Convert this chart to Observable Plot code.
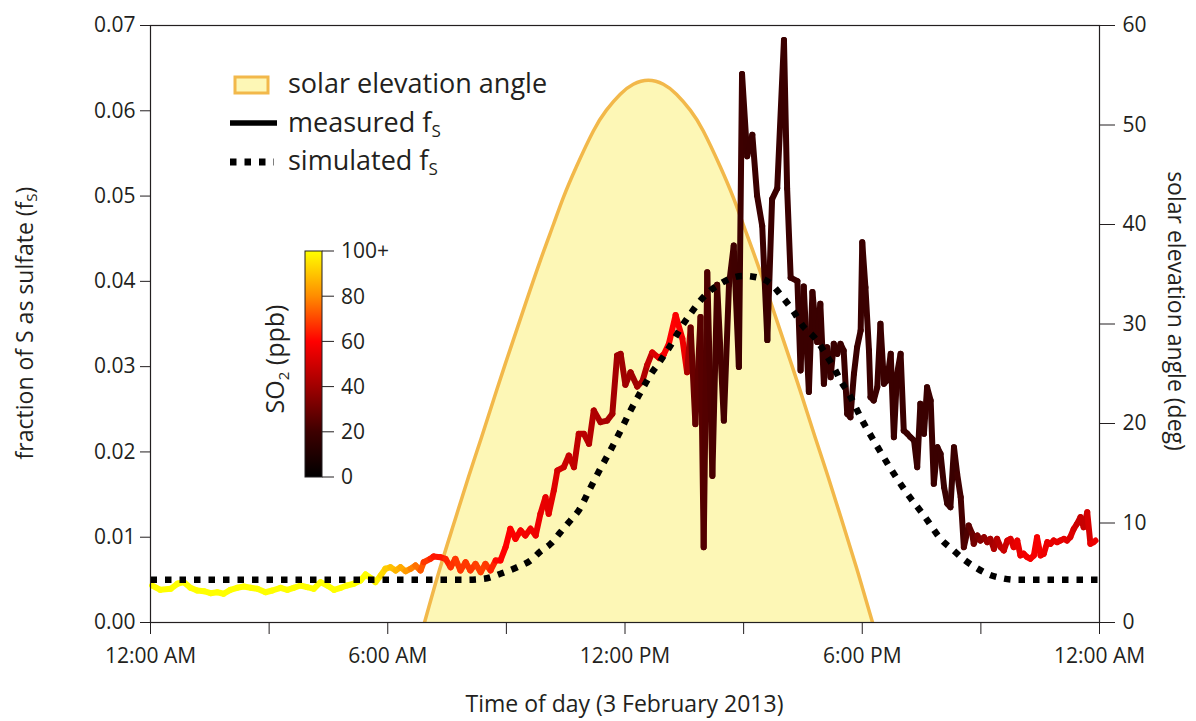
<!DOCTYPE html>
<html><head><meta charset="utf-8">
<script src="https://cdn.jsdelivr.net/npm/d3@7"></script>
<script src="https://cdn.jsdelivr.net/npm/@observablehq/plot@0.6"></script>
<style>
html,body{margin:0;padding:0;background:#fff;}
#chart{position:relative;width:1196px;height:721px;overflow:hidden;}
</style></head>
<body><div id="chart"></div>
<script>
const FONT = "'Open Sans', sans-serif";
const INK = "#231f20";

// ---- axis / tick definitions ----
const xTicks = [0, 3, 6, 9, 12, 15, 18, 21, 24];
const xTickLabels = ["12:00 AM", "", "6:00 AM", "", "12:00 PM", "", "6:00 PM", "", "12:00 AM"];
const yTicks = [0, 0.01, 0.02, 0.03, 0.04, 0.05, 0.06, 0.07];
const elevTicks = [0, 10, 20, 30, 40, 50, 60];
const so2Ticks = [0, 20, 40, 60, 80, 100];
const so2TickLabels = ["0", "20", "40", "60", "80", "100+"];
const so2ColorDomain = [0, 20, 40, 60, 80, 100];
const so2ColorRange = ["#000000", "#3d0000", "#a00000", "#ff0000", "#ff8c00", "#ffff00"];

// ---- solar elevation angle (deg) ----
const solarHour = [6.93, 7.28, 7.66, 8.04, 8.37, 8.75, 9.10, 9.48, 9.86, 10.19, 10.44, 10.77, 11.20, 11.53, 11.88, 12.21, 12.59,
  12.97, 13.30, 13.65, 13.98, 14.41, 14.74, 14.99, 15.32, 15.70, 16.08, 16.43, 16.81, 17.14, 17.52, 17.90, 18.26];
const solarElev = [0, 4.9, 9.8, 14.6, 18.6, 23.3, 27.5, 32.0, 36.4, 40.0, 42.7, 45.8, 49.4, 51.5, 53.1, 54.1, 54.5,
  54.1, 53.1, 51.5, 49.4, 45.8, 42.7, 40.0, 36.4, 32.0, 27.5, 23.3, 18.6, 14.6, 9.8, 4.9, 0];

// ---- simulated fS ----
const simHour = [0, 8.0, 8.43, 8.85, 9.27, 9.61, 9.86, 10.12, 10.37, 10.62, 10.83, 11.13, 11.38, 11.63, 11.89, 12.14, 12.39, 12.65, 12.90, 13.15,
  13.40, 13.66, 13.91, 14.16, 14.42, 14.67, 15.00, 15.35, 15.68, 15.93, 16.26, 16.51, 16.77, 16.94, 17.07, 17.28, 17.45, 17.66, 18.00, 18.34,
  18.72, 19.14, 19.56, 20.02, 20.28, 20.57, 20.86, 21.16, 21.54, 21.92, 24];
const simFs = [0.005, 0.005, 0.00512, 0.00571, 0.00648, 0.00727, 0.00832, 0.00923, 0.01059, 0.01196, 0.01313, 0.01583, 0.01806, 0.02017, 0.02251, 0.02486, 0.02697, 0.02908, 0.03072, 0.03248,
  0.03447, 0.03623, 0.03776, 0.03893, 0.03975, 0.04034, 0.04063, 0.04045, 0.03975, 0.03846, 0.03647, 0.03471, 0.03353, 0.03248, 0.03151, 0.02993, 0.02838, 0.02682, 0.02369, 0.02095,
  0.01802, 0.01509, 0.01255, 0.00961, 0.00856, 0.00739, 0.00648, 0.00571, 0.00519, 0.005, 0.005];

// ---- measured fS with SO2 (ppb) ----
const measHour = [0.04, 0.25, 0.51, 0.68, 0.84, 1.01, 1.18, 1.35, 1.52, 1.69, 1.85, 2.02, 2.19, 2.36, 2.53, 2.70, 2.91, 3.08, 3.29, 3.46, 3.62, 3.79, 3.96, 4.13, 4.30, 4.47, 4.64, 4.81, 4.97, 5.14, 5.31, 5.44, 5.56, 5.69, 5.82, 5.94, 6.07, 6.20, 6.32, 6.45, 6.58, 6.70, 6.83, 6.91, 7.08, 7.16,
  7.33, 7.46, 7.59, 7.71, 7.84, 7.97, 8.09, 8.22, 8.35, 8.47, 8.60, 8.73, 8.85, 8.98, 9.10, 9.23, 9.36, 9.48, 9.61, 9.74, 9.86, 9.99, 10.07, 10.20, 10.29, 10.45, 10.58, 10.71, 10.83, 10.96, 11.09, 11.21, 11.38, 11.55, 11.68, 11.80, 11.89,
  12.01, 12.14, 12.31, 12.44, 12.56, 12.69, 12.86, 12.98, 13.11, 13.28, 13.45, 13.57,
  13.66, 13.78, 13.91, 13.99, 14.08, 14.21, 14.33, 14.50, 14.63, 14.75, 14.88, 14.96, 15.09, 15.22, 15.34, 15.47, 15.60, 15.72, 15.85, 16.02, 16.10, 16.19, 16.36, 16.44, 16.52, 16.65, 16.74, 16.86,
  16.94, 17.03, 17.11, 17.20, 17.28, 17.37, 17.45, 17.53, 17.62, 17.70, 17.79, 17.87, 17.96, 18.00, 18.08, 18.17, 18.21, 18.29, 18.38, 18.46, 18.55, 18.63, 18.72, 18.80, 18.88, 18.97, 19.05, 19.14, 19.22, 19.31, 19.39, 19.47, 19.56, 19.64, 19.73, 19.81, 19.90, 19.98, 20.07, 20.15, 20.23, 20.32, 20.40, 20.49, 20.57,
  20.69, 20.78, 20.82, 20.91, 20.99, 21.08, 21.16, 21.24, 21.33, 21.41, 21.50, 21.58, 21.67, 21.75, 21.83, 21.92, 22.00, 22.08, 22.17, 22.25, 22.34, 22.42, 22.51, 22.59, 22.68, 22.76, 22.84, 22.93, 23.01, 23.10, 23.18, 23.26, 23.35, 23.43, 23.52, 23.60, 23.69, 23.77, 23.85, 23.90];
const measFs = [0.00434, 0.00383, 0.00395, 0.00454, 0.00473, 0.00407, 0.00375, 0.00367, 0.00344, 0.00355, 0.00337, 0.00383, 0.00407, 0.00422, 0.00407, 0.00395, 0.00355, 0.00375, 0.00407, 0.00383, 0.00407, 0.00434, 0.00414, 0.00395, 0.00473, 0.00434, 0.00383, 0.00407, 0.00434, 0.00454, 0.00492, 0.00563, 0.00524, 0.00473, 0.00551, 0.0063, 0.00648, 0.0061, 0.00648, 0.00601, 0.0063, 0.00668, 0.0061, 0.00707, 0.00747, 0.00774,
  0.00766, 0.00747, 0.00648, 0.00747, 0.0061, 0.00707, 0.0061, 0.00688, 0.0059, 0.00688, 0.0061, 0.00727, 0.00727, 0.00883, 0.01099, 0.00981, 0.01079, 0.0102, 0.01099, 0.0102, 0.01274, 0.01469, 0.01274, 0.01548, 0.01782, 0.01821, 0.01958, 0.01821, 0.02212, 0.02212, 0.02095, 0.02486, 0.02349, 0.02368, 0.02447, 0.03131, 0.0315,
  0.02787, 0.02934, 0.02767, 0.02829, 0.03018, 0.03166, 0.03101, 0.03142, 0.03269, 0.03604, 0.03331, 0.02934,
  0.03458, 0.02326, 0.03583, 0.00882, 0.04106, 0.01719, 0.0396, 0.02368, 0.0396, 0.0442, 0.02997, 0.0643, 0.05467, 0.05718, 0.05007, 0.0465, 0.03311, 0.04964, 0.0509, 0.06829, 0.0509, 0.04044, 0.04002, 0.02955, 0.0394, 0.02704, 0.03876, 0.0329,
  0.03737, 0.02799, 0.03228, 0.02876, 0.03268, 0.0315, 0.03268, 0.03189, 0.02447, 0.02407, 0.02916, 0.03228, 0.03424, 0.04459, 0.03931, 0.03189, 0.02642, 0.02603, 0.02759, 0.03502, 0.02799, 0.02838, 0.0315, 0.02173, 0.02916, 0.0315, 0.02251, 0.02213, 0.02173, 0.02134, 0.01821, 0.02564, 0.02213, 0.02759, 0.02603, 0.01626, 0.02055, 0.01978, 0.01586, 0.01392, 0.01352, 0.02055, 0.01743, 0.01469, 0.00883,
  0.01137, 0.0104, 0.00923, 0.0102, 0.00961, 0.01, 0.00942, 0.00981, 0.00864, 0.00981, 0.00883, 0.00844, 0.00961, 0.00981, 0.00883, 0.00961, 0.00786, 0.00806, 0.00766, 0.00747, 0.00786, 0.01, 0.00786, 0.00806, 0.00942, 0.00923, 0.00961, 0.00942, 0.00961, 0.00981, 0.00961, 0.01, 0.01099, 0.01157, 0.01235, 0.01117, 0.01293, 0.00923, 0.00942, 0.00961];
const measSo2 = [100, 100, 100, 100, 100, 100, 100, 100, 100, 100, 100, 100, 100, 100, 100, 100, 100, 100, 100, 100, 100, 100, 100, 100, 100, 100, 100, 100, 100, 100, 100, 100, 100, 100, 95, 92, 90, 88, 86, 84, 80, 77, 75, 70, 66, 64,
  62, 64, 66, 68, 68, 68, 68, 68, 70, 68, 68, 62, 60, 60, 60, 59, 58, 58, 57, 57, 56, 55, 55, 54, 52, 50, 48, 48, 46, 46, 45, 44, 42, 42, 42, 40, 40,
  40, 40, 40, 42, 45, 50, 55, 58, 60, 60, 58, 55,
  30, 28, 26, 25, 24, 23, 22, 22, 21, 21, 20, 20, 19, 19, 19, 19, 19, 19, 19, 19, 19, 19, 19, 19, 19, 19, 19, 19,
  19, 19, 19, 19, 19, 19, 19, 19, 19, 19, 19, 19, 19, 19, 19, 19, 19, 19, 19, 19, 19, 19, 19, 19, 19, 19, 19, 19, 19, 19, 19, 19, 19, 19, 19, 19, 19, 19, 19, 19, 19, 19, 20, 21, 22,
  25, 28, 30, 32, 34, 36, 38, 40, 42, 44, 46, 48, 50, 52, 54, 55, 56, 57, 58, 58, 58, 58, 58, 57, 56, 56, 55, 55, 55, 55, 54, 54, 52, 50, 48, 48, 48, 55, 56, 56];

// right axis (deg) shares the left scale: 60 deg spans the same height as 0.07
const K = 0.07 / 60;

const measured = measHour.map((t, i) => ({t, fs: measFs[i], so2: measSo2[i]}));
const segments = d3.pairs(measured).map(([a, b]) => ({t1: a.t, f1: a.fs, t2: b.t, f2: b.fs, so2: (a.so2 + b.so2) / 2}));
const simulated = simHour.map((t, i) => ({t, fs: simFs[i]}));
const solar = solarHour.map((t, i) => ({t, v: solarElev[i] * K}));

const marks = [
  Plot.areaY(solar, {x: "t", y: "v", fill: "#fdf7b6", curve: "natural", clip: true}),
  Plot.lineY(solar, {x: "t", y: "v", stroke: "#f2b84a", strokeWidth: 3.5, curve: "natural", clip: true}),
  Plot.link(segments, {x1: "t1", y1: "f1", x2: "t2", y2: "f2", stroke: "so2", strokeWidth: 6, strokeLinecap: "round"}),
  Plot.line(simulated, {x: "t", y: "fs", stroke: "#000", strokeWidth: 6.5, strokeDasharray: "6.5 8", strokeLinecap: "butt", strokeLinejoin: "miter", curve: "monotone-x"}),
  Plot.frame({stroke: INK, strokeWidth: 1.2}),
  Plot.axisX({ticks: xTicks, tickFormat: d => xTickLabels[xTicks.indexOf(d)], tickSize: 12, tickPadding: 14, label: null}),
  Plot.axisY({anchor: "left", ticks: yTicks, tickFormat: d3.format(".2f"), tickSize: 10, tickPadding: 5, label: null}),
  Plot.axisY({anchor: "right", ticks: elevTicks.map(e => e * K), tickFormat: v => String(Math.round(v / K)), tickSize: 15, tickPadding: 8, label: null})
];

const chart = Plot.plot({
  width: 1196, height: 721,
  marginLeft: 150, marginRight: 97, marginTop: 25, marginBottom: 99,
  style: {fontFamily: FONT, fontSize: "21px", color: INK, background: "transparent", overflow: "visible"},
  x: {domain: [0, 24]},
  y: {domain: [0, 0.07]},
  color: {type: "linear", domain: so2ColorDomain, range: so2ColorRange, interpolate: "rgb"},
  marks
});
document.getElementById("chart").appendChild(chart);

// ---- annotations: axis titles, legend, colour bar ----
const svg = d3.select(chart);
const ann = svg.append("g").attr("font-family", FONT).attr("fill", INK).attr("text-anchor", "start");

ann.append("text").attr("x", 624.5).attr("y", 712).attr("text-anchor", "middle")
  .attr("font-size", 23).text("Time of day (3 February 2013)");

const lt = ann.append("text").attr("transform", "translate(33,323) rotate(-90)")
  .attr("text-anchor", "middle").attr("font-size", 23);
lt.append("tspan").text("fraction of S as sulfate (f");
lt.append("tspan").attr("font-size", 15).attr("dy", 4).text("S");
lt.append("tspan").attr("dy", -4).text(")");

ann.append("text").attr("transform", "translate(1168,311) rotate(90)")
  .attr("text-anchor", "middle").attr("font-size", 23).text("solar elevation angle (deg)");

// legend
const leg = ann.append("g");
leg.append("rect").attr("x", 235).attr("y", 77).attr("width", 33).attr("height", 16)
  .attr("fill", "#fdf7b6").attr("stroke", "#f2b84a").attr("stroke-width", 3);
leg.append("text").attr("x", 288).attr("y", 93).attr("font-size", 27).text("solar elevation angle");
leg.append("line").attr("x1", 230).attr("x2", 277).attr("y1", 123).attr("y2", 123)
  .attr("stroke", "#000").attr("stroke-width", 5.5);
const l2 = leg.append("text").attr("x", 288).attr("y", 132).attr("font-size", 27);
l2.append("tspan").text("measured f");
l2.append("tspan").attr("font-size", 17).attr("dy", 5).text("S");
leg.append("line").attr("x1", 230).attr("x2", 274).attr("y1", 162).attr("y2", 162)
  .attr("stroke", "#000").attr("stroke-width", 7).attr("stroke-dasharray", "6.5 8");
const l3 = leg.append("text").attr("x", 288).attr("y", 170).attr("font-size", 27);
l3.append("tspan").text("simulated f");
l3.append("tspan").attr("font-size", 17).attr("dy", 5).text("S");

// colour bar
const cbX = 305, cbW = 17, cbTop = 251, cbBot = 477;
const cbScale = d3.scaleLinear().domain([0, 100]).range([cbBot, cbTop]);
const defs = svg.append("defs");
const grad = defs.append("linearGradient").attr("id", "so2grad")
  .attr("x1", 0).attr("y1", 1).attr("x2", 0).attr("y2", 0);
so2ColorDomain.forEach((d, i) => grad.append("stop").attr("offset", d / 100).attr("stop-color", so2ColorRange[i]));
const cb = ann.append("g");
cb.append("rect").attr("x", cbX).attr("y", cbTop).attr("width", cbW).attr("height", cbBot - cbTop)
  .attr("fill", "url(#so2grad)").attr("stroke", INK).attr("stroke-width", 1);
so2Ticks.forEach((v, i) => {
  cb.append("line").attr("x1", cbX + cbW).attr("x2", cbX + cbW + 12)
    .attr("y1", cbScale(v)).attr("y2", cbScale(v)).attr("stroke", INK).attr("stroke-width", 1);
  cb.append("text").attr("x", cbX + cbW + 19).attr("y", cbScale(v)).attr("dy", "0.35em")
    .attr("font-size", 21).text(so2TickLabels[i]);
});
const cbl = cb.append("text").attr("transform", "translate(284,359) rotate(-90)")
  .attr("text-anchor", "middle").attr("font-size", 25);
cbl.append("tspan").text("SO");
cbl.append("tspan").attr("font-size", 15).attr("dy", 5).text("2");
cbl.append("tspan").attr("dy", -5).text(" (ppb)");
</script></body></html>
